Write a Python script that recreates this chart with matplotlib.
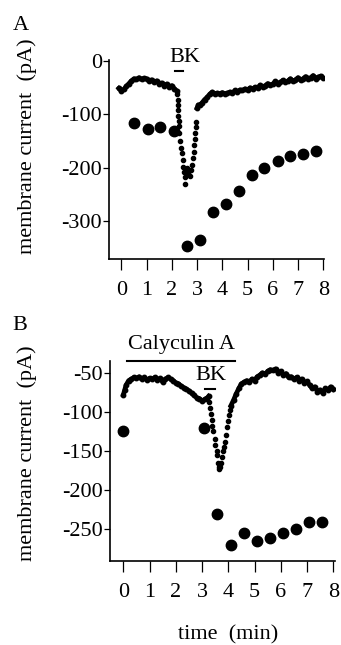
import matplotlib
matplotlib.use("Agg")
import matplotlib.pyplot as plt

plt.rcParams['font.family'] = ['Liberation Serif', 'DejaVu Serif']
plt.rcParams['axes.unicode_minus'] = False

# ---- panel A : continuous trace (before BK, the BK dip, after) ----
tA_pre = [-0.1, 0.0, 0.1, 0.2, 0.3, 0.4, 0.5, 0.6, 0.7, 0.8, 0.9, 1.0, 1.1, 1.2,
          1.3, 1.4, 1.5, 1.6, 1.7, 1.8, 1.9, 2.0, 2.1, 2.2]
vA_pre = [-51, -56, -53, -47, -42, -37, -33, -34, -31, -34, -32, -33, -37, -35,
          -40, -37, -42, -41, -46, -43, -48, -46, -52, -56]
tA_dip = [2.22, 2.23, 2.24, 2.25, 2.26, 2.27, 2.28, 2.30, 2.32, 2.36, 2.40, 2.43,
          2.46, 2.50, 2.52, 2.53, 2.57, 2.62, 2.66, 2.72, 2.76, 2.80, 2.83, 2.86,
          2.88, 2.90, 2.92, 2.94, 2.96]
vA_dip = [-62, -72, -82, -92, -102, -112, -122, -135, -150, -162, -172, -185,
          -198, -208, -218, -230, -205, -200, -210, -215, -205, -195, -182, -170,
          -158, -146, -135, -124, -115]
tA_post = [3.0, 3.05, 3.1, 3.2, 3.3, 3.4, 3.5, 3.6, 3.7, 3.8, 3.9, 4.0, 4.1, 4.2,
           4.3, 4.4, 4.5, 4.6, 4.7, 4.8, 4.9, 5.0, 5.1, 5.2, 5.3, 5.4, 5.5, 5.6,
           5.7, 5.8, 5.9, 6.0, 6.1, 6.2, 6.3, 6.4, 6.5, 6.6, 6.7, 6.8, 6.9, 7.0,
           7.1, 7.2, 7.3, 7.4, 7.5, 7.6, 7.7, 7.8, 7.9, 8.0]
vA_post = [-88, -82, -83, -78, -72, -68, -62, -58, -62, -60, -61, -59, -61, -60,
           -58, -60, -55, -57, -54, -55, -52, -54, -50, -52, -49, -50, -45, -48,
           -46, -42, -45, -43, -38, -42, -40, -36, -40, -37, -33, -38, -35, -31,
           -36, -33, -29, -34, -31, -27, -33, -30, -28, -31]
# panel A : periodic peak currents
tA_pk = [0.52, 1.04, 1.55, 2.07, 2.6, 3.1, 3.63, 4.13, 4.66, 5.18, 5.66, 6.2,
         6.7, 7.2, 7.73]
vA_pk = [-116, -127, -124, -131, -347, -336, -283, -268, -244, -214, -201, -188,
         -178, -174, -169]

# ---- panel B ----
tB_pre = [0.0, 0.05, 0.1, 0.2, 0.3, 0.4, 0.5, 0.6, 0.7, 0.8, 0.9, 1.0, 1.1, 1.2,
          1.3, 1.4, 1.5, 1.6, 1.7, 1.8, 1.9, 2.0, 2.1, 2.2, 2.3, 2.4, 2.5, 2.6,
          2.7, 2.8, 2.9, 3.0, 3.1, 3.2, 3.25]
vB_pre = [-78, -72, -66, -60, -58, -56, -57, -55, -58, -56, -59, -57, -58, -56,
          -59, -57, -62, -58, -56, -58, -60, -63, -64, -67, -69, -71, -73, -76,
          -79, -82, -83, -86, -84, -82, -80]
tB_dip = [3.28, 3.30, 3.33, 3.36, 3.38, 3.40, 3.48, 3.50, 3.55, 3.57, 3.60, 3.63,
          3.66, 3.70, 3.74, 3.77, 3.80, 3.83, 3.86, 3.90, 3.95, 3.98, 4.02, 4.05]
vB_dip = [-88, -95, -103, -110, -118, -125, -135, -142, -150, -155, -165, -170,
          -173, -170, -165, -158, -150, -145, -138, -130, -120, -112, -104, -98]
tB_post = [4.1, 4.2, 4.3, 4.4, 4.5, 4.6, 4.7, 4.8, 4.9, 5.0, 5.1, 5.2, 5.3, 5.4,
           5.5, 5.6, 5.7, 5.8, 5.9, 6.0, 6.1, 6.2, 6.3, 6.4, 6.5, 6.6, 6.7, 6.8,
           6.9, 7.0, 7.1, 7.2, 7.3, 7.4, 7.5, 7.6, 7.7, 7.8, 7.9, 8.0]
vB_post = [-92, -85, -77, -70, -64, -62, -60, -62, -58, -60, -55, -53, -50, -52,
           -48, -46, -47, -45, -50, -48, -53, -51, -56, -55, -58, -56, -60, -58,
           -63, -61, -66, -70, -68, -74, -72, -76, -70, -72, -68, -71]
tB_pk = [0.0, 3.09, 3.57, 4.1, 4.58, 5.09, 5.6, 6.08, 6.59, 7.09, 7.57]
vB_pk = [-125, -121, -231, -271, -255, -266, -261, -255, -250, -241, -241]

xticks = [0, 1, 2, 3, 4, 5, 6, 7, 8]
yticksA = [0, -100, -200, -300]
yticksB = [-50, -100, -150, -200, -250]

fig = plt.figure(figsize=(3.41, 6.45), dpi=100)
axA = fig.add_axes([0.3196, 0.5984, 0.6305, 0.3085])
axB = fig.add_axes([0.3226, 0.1302, 0.66, 0.31])

FS = 16


def trace(ax, t_pre, v_pre, t_dip, v_dip, t_post, v_post, t_pk, v_pk):
    ax.plot(t_pre, v_pre, '-o', color='black', lw=3.4, ms=3.2)
    ax.plot(t_dip, v_dip, 'o', color='black', ms=3.0, ls='none')
    ax.plot(t_post, v_post, '-o', color='black', lw=3.4, ms=3.2)
    ax.plot(t_pk, v_pk, 'o', color='black', ms=7.5, ls='none')
    for s in ['top', 'right']:
        ax.spines[s].set_visible(False)
    ax.spines['left'].set_linewidth(1.2)
    ax.spines['bottom'].set_linewidth(1.2)
    ax.set_xticks(xticks)
    ax.tick_params(axis='x', direction='out', length=8, width=0.9, pad=8,
                   labelsize=FS)
    ax.tick_params(axis='y', direction='out', length=4, width=0.9, pad=1,
                   labelsize=FS)


trace(axA, tA_pre, vA_pre, tA_dip, vA_dip, tA_post, vA_post, tA_pk, vA_pk)
axA.set_xlim(-0.49, 8.03)
axA.set_ylim(-371, 2)
axA.set_yticks(yticksA)
axA.plot([2.14, 2.46], [-19, -19], color='black', lw=1.5, clip_on=False)
axA.text(2.5, 7, 'BK', ha='center', va='center', fontsize=FS)

trace(axB, tB_pre, vB_pre, tB_dip, vB_dip, tB_post, vB_post, tB_pk, vB_pk)
axB.set_xlim(-0.51, 8.07)
axB.set_ylim(-291, -35)
axB.set_yticks(yticksB)
axB.plot([0.14, 4.26], [-34.6, -34.6], color='black', lw=1.5, clip_on=False)
axB.text(2.2, -14, 'Calyculin A', ha='center', va='center', fontsize=FS)
axB.plot([3.12, 3.5], [-70.5, -70.5], color='black', lw=1.5, clip_on=False)
axB.text(3.35, -54, 'BK', ha='center', va='center', fontsize=FS)

fig.text(27 / 341, 1 - 146 / 645, 'membrane current  (pA)', rotation=90,
         ha='center', va='center', fontsize=FS)
fig.text(27 / 341, 1 - 453 / 645, 'membrane current  (pA)', rotation=90,
         ha='center', va='center', fontsize=FS)
fig.text(228 / 341, 1 - 635 / 645, 'time  (min)', ha='center', va='center',
         fontsize=FS)
fig.text(21 / 341, 1 - 25 / 645, 'A', ha='center', va='center', fontsize=16)
fig.text(20 / 341, 1 - 325 / 645, 'B', ha='center', va='center', fontsize=16)

fig.savefig('out.png', dpi=100)
